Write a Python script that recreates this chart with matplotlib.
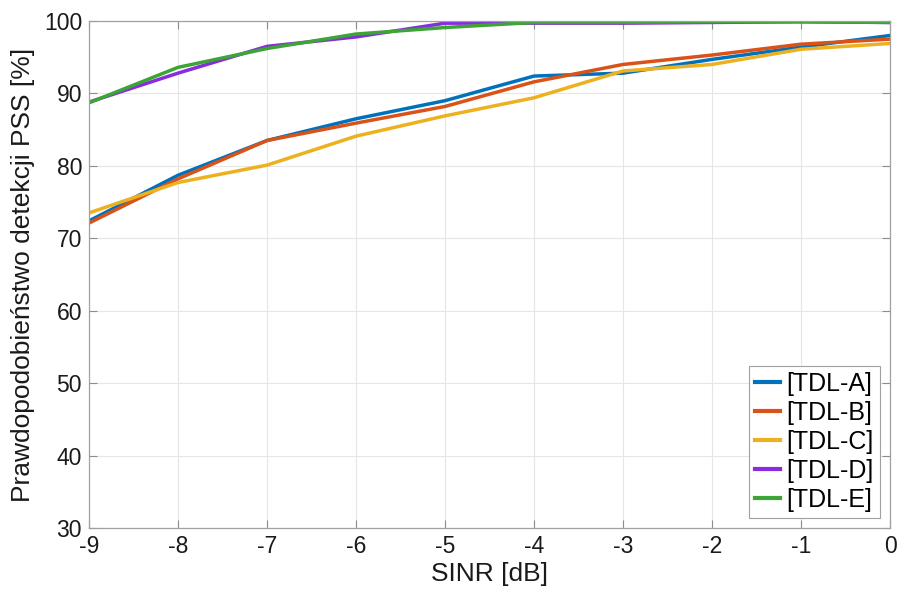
import matplotlib
matplotlib.use("Agg")
import matplotlib.pyplot as plt

sinr = [-9, -8, -7, -6, -5, -4, -3, -2, -1, 0]
tdl_a = [72.4, 78.7, 83.5, 86.5, 89.0, 92.4, 92.8, 94.7, 96.4, 98.0]
tdl_b = [72.1, 78.2, 83.5, 85.9, 88.2, 91.6, 94.0, 95.3, 96.8, 97.5]
tdl_c = [73.5, 77.7, 80.1, 84.1, 86.9, 89.4, 93.1, 94.0, 96.1, 96.9]
tdl_d = [88.8, 92.8, 96.5, 97.8, 99.7, 99.7, 99.7, 99.8, 99.9, 99.8]
tdl_e = [88.7, 93.6, 96.2, 98.2, 99.1, 99.8, 99.8, 99.9, 99.9, 99.8]
labels = ["[TDL-A]", "[TDL-B]", "[TDL-C]", "[TDL-D]", "[TDL-E]"]
colors = ["#0072BD", "#D95319", "#EDB120", "#8A2BE2", "#3CA535"]
yticks = [30, 40, 50, 60, 70, 80, 90, 100]

plt.rcParams['font.family'] = ['Liberation Sans', 'DejaVu Sans']
plt.rcParams['axes.unicode_minus'] = False

fig = plt.figure(figsize=(8.98, 5.95), dpi=100)
ax = fig.add_axes([0.0991, 0.1126, 0.8920, 0.8521])

for ser, lab, c in zip([tdl_a, tdl_b, tdl_c, tdl_d, tdl_e], labels, colors):
    ax.plot(sinr, ser, color=c, lw=2.5, label=lab, solid_joinstyle='miter')

ax.set_xlim(-9, 0)
ax.set_ylim(30, 100)
ax.set_xticks(sinr)
ax.set_yticks(yticks)
ax.grid(True, color='#e6e6e6', lw=0.8)
ax.set_axisbelow(True)
ax.tick_params(direction='in', length=6, width=0.8, color='#8c8c8c', labelsize=16.5,
               top=True, right=True, labelcolor='#1a1a1a', pad=5)
for s in ax.spines.values():
    s.set_color('#a0a0a0')
    s.set_linewidth(0.9)
ax.set_xlabel('SINR [dB]', fontsize=19, color='#1a1a1a', labelpad=3)
ax.set_ylabel('Prawdopodobieństwo detekcji PSS [%]', fontsize=19, color='#1a1a1a', labelpad=6)
leg = ax.legend(loc='lower right', fontsize=18, fancybox=False, framealpha=1,
                edgecolor='#a0a0a0', handlelength=1.0, handletextpad=0.25,
                borderpad=0.25, labelspacing=0.2, borderaxespad=0.4)
leg.get_frame().set_linewidth(0.8)
for l in leg.get_lines():
    l.set_linewidth(3)

fig.savefig('out.png', dpi=100)
